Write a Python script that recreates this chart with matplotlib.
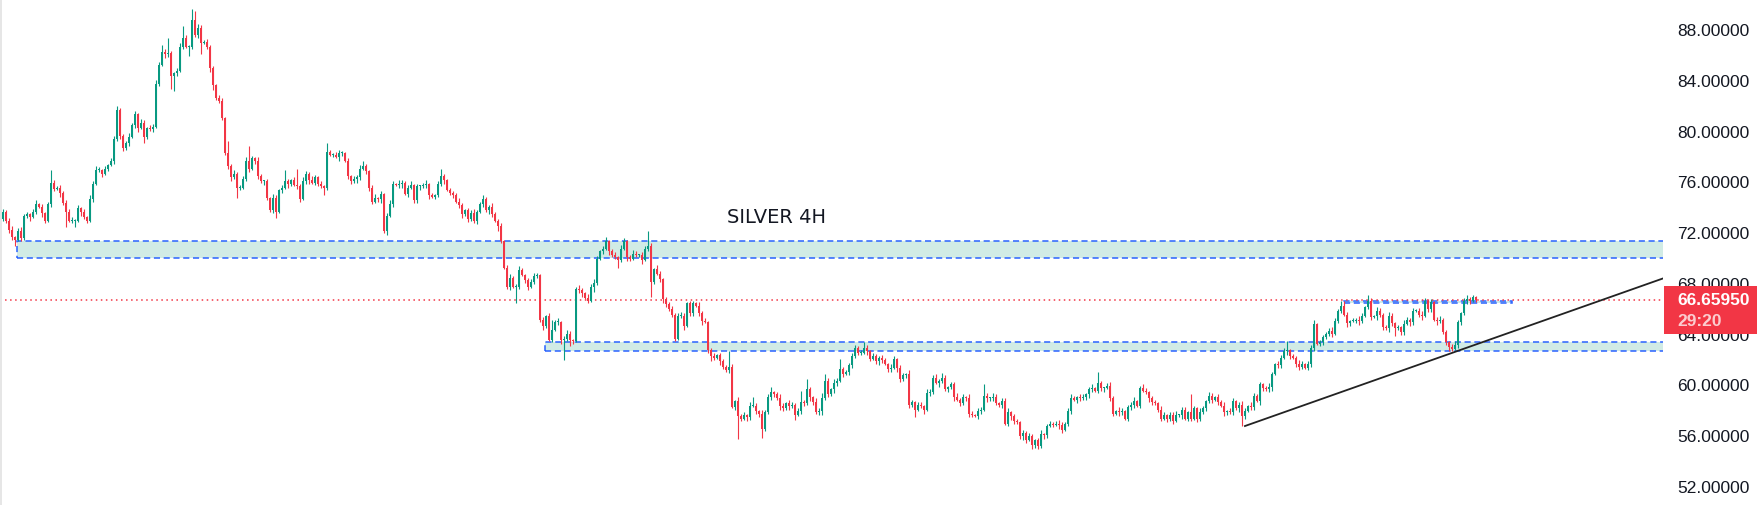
import matplotlib
matplotlib.use("Agg")
import matplotlib.pyplot as plt
from matplotlib.patches import Rectangle
import numpy as np

plt.rcParams['font.family'] = ['DejaVu Sans']

# ---------------- data ----------------
first_open = 73.0
closes = [
    73.6, 72.9, 72.2, 71.6, 71.4, 72.1, 71.5, 73.3, 73.4, 73.2,
    73.6, 74.2, 74.0, 73.5, 72.9, 74.2, 75.9, 75.4, 75.5, 75.1,
    74.3, 73.6, 72.9, 72.9, 72.9, 73.9, 73.6, 73.2, 72.9, 74.6,
    75.8, 76.9, 76.9, 76.6, 77.0, 77.3, 77.6, 79.3, 81.6, 79.6,
    78.6, 79.0, 79.5, 80.4, 81.3, 80.2, 80.6, 79.5, 80.2, 80.1,
    80.3, 83.7, 85.2, 86.2, 86.0, 86.1, 84.3, 84.5, 84.7, 86.6,
    87.3, 86.6, 86.6, 88.7, 87.5, 88.1, 86.9, 87.0, 86.6, 84.9,
    83.6, 82.6, 82.3, 81.0, 78.2, 77.2, 76.3, 76.6, 75.5, 75.5,
    76.2, 77.6, 77.0, 77.8, 77.6, 76.4, 76.0, 76.0, 74.7, 73.7,
    74.7, 73.6, 75.3, 75.5, 76.0, 75.8, 76.1, 75.7, 75.6, 74.6,
    76.0, 76.6, 76.1, 75.9, 76.3, 75.8, 75.6, 75.5, 78.3, 78.1,
    78.1, 77.9, 78.2, 78.2, 77.6, 76.4, 76.0, 76.2, 76.3, 77.0,
    77.2, 76.8, 75.5, 74.4, 74.7, 74.6, 75.0, 72.1, 73.3, 74.2,
    75.8, 75.7, 75.8, 75.9, 75.0, 75.5, 75.7, 74.5, 75.6, 75.6,
    75.7, 75.8, 74.9, 74.8, 74.9, 75.8, 76.4, 76.1, 75.3, 75.1,
    74.9, 74.4, 74.1, 73.4, 73.7, 73.0, 73.5, 72.9, 73.6, 74.2,
    74.6, 73.7, 74.0, 73.4, 72.9, 72.5, 71.3, 69.2, 67.7, 68.4,
    67.7, 67.7, 69.0, 68.6, 68.2, 67.7, 68.1, 68.5, 68.6, 65.1,
    64.6, 65.4, 63.5, 64.3, 64.9, 64.9, 63.5, 63.6, 64.0, 63.5,
    63.4, 67.5, 67.4, 67.2, 66.8, 66.6, 67.7, 68.0, 69.9, 70.5,
    70.7, 71.3, 70.5, 70.2, 70.0, 69.8, 70.7, 71.3, 70.0, 69.9,
    70.3, 70.2, 70.2, 69.8, 70.7, 70.9, 68.1, 69.1, 68.7, 68.3,
    66.7, 66.3, 65.9, 65.5, 63.6, 65.4, 65.4, 64.6, 66.4, 65.6,
    66.4, 66.2, 65.6, 65.0, 64.9, 62.7, 62.2, 62.1, 62.3, 61.8,
    61.4, 61.1, 61.4, 58.2, 58.7, 57.5, 57.3, 57.6, 57.4, 58.3,
    58.3, 57.9, 57.7, 56.5, 57.8, 59.0, 59.4, 59.2, 58.9, 58.3,
    58.1, 58.5, 58.3, 58.4, 57.6, 57.9, 58.6, 58.5, 59.6, 59.0,
    58.6, 57.8, 57.9, 58.9, 60.3, 59.2, 59.6, 60.1, 60.3, 61.2,
    60.8, 61.0, 61.5, 62.2, 62.9, 62.5, 62.5, 62.9, 62.6, 62.0,
    62.2, 61.8, 62.1, 61.9, 61.6, 61.2, 61.3, 62.0, 61.3, 60.4,
    60.7, 60.8, 58.4, 58.6, 58.0, 58.4, 58.3, 58.0, 59.3, 59.4,
    60.5, 60.1, 60.3, 60.5, 59.6, 59.8, 60.0, 59.0, 58.8, 58.5,
    59.0, 58.9, 57.7, 57.6, 57.5, 57.9, 58.0, 59.1, 58.9, 58.9,
    59.0, 58.5, 58.4, 58.7, 56.9, 57.8, 57.5, 57.1, 57.0, 55.9,
    56.2, 55.6, 55.9, 55.2, 55.6, 55.1, 56.1, 56.0, 56.7, 56.9,
    56.8, 56.9, 56.8, 56.4, 56.9, 57.9, 58.9, 58.8, 59.0, 58.9,
    59.0, 59.2, 59.6, 59.7, 59.5, 60.1, 59.7, 59.7, 59.9, 58.9,
    57.7, 57.9, 57.8, 57.9, 57.3, 58.2, 58.4, 58.7, 58.3, 59.7,
    59.5, 59.4, 58.9, 58.6, 58.5, 58.0, 57.3, 57.6, 57.3, 57.6,
    57.1, 57.6, 57.6, 58.0, 57.3, 57.8, 57.3, 58.1, 57.3, 57.8,
    58.1, 58.7, 59.1, 58.8, 59.0, 58.6, 58.3, 57.8, 57.9, 57.8,
    58.7, 58.1, 58.4, 57.5, 57.9, 58.3, 58.2, 59.1, 58.7, 60.0,
    59.7, 59.6, 59.8, 60.8, 61.6, 61.5, 62.1, 62.6, 62.7, 62.2,
    62.1, 61.6, 61.4, 61.6, 61.3, 61.6, 62.9, 64.75, 63.2, 63.3,
    63.7, 64.0, 64.2, 64.0, 65.0, 65.8, 66.2, 65.5, 64.8, 65.0,
    65.0, 65.1, 65.0, 65.4, 66.1, 66.6, 65.3, 65.4, 65.8, 65.5,
    64.5, 64.4, 65.4, 64.8, 64.4, 64.5, 64.1, 64.75, 65.1, 64.9,
    65.8, 65.8, 65.5, 65.4, 66.6, 65.9, 66.5, 65.1, 65.0, 65.1,
    64.1, 63.3, 62.95, 62.8, 63.1, 64.9, 65.6, 66.6, 66.7, 66.55,
    66.85, 66.6595,
]
# wick extensions beyond the body, in tenths of a price unit
wick_hi = [
    2, 1, 2, 3, 1, 2, 3, 1, 2, 1,
    2, 3, 1, 2, 1, 2, 10, 2, 1, 2,
    1, 2, 2, 3, 1, 2, 1, 2, 1, 3,
    2, 3, 2, 1, 2, 1, 2, 3, 3, 2,
    1, 2, 3, 2, 2, 1, 3, 2, 1, 2,
    2, 3, 2, 5, 2, 12, 2, 1, 2, 3,
    9, 2, 1, 9, 7, 3, 2, 1, 2, 1,
    2, 1, 2, 3, 1, 10, 2, 3, 1, 2,
    2, 3, 12, 2, 1, 3, 2, 1, 2, 1,
    3, 2, 1, 2, 9, 2, 1, 2, 13, 2,
    3, 2, 1, 3, 2, 1, 2, 1, 7, 2,
    1, 2, 3, 2, 1, 2, 1, 2, 2, 3,
    4, 2, 1, 2, 3, 1, 2, 1, 2, 3,
    2, 1, 3, 2, 1, 2, 3, 1, 2, 1,
    2, 3, 1, 2, 1, 2, 6, 2, 1, 2,
    1, 2, 3, 2, 1, 2, 2, 3, 1, 2,
    3, 2, 1, 3, 2, 1, 2, 1, 2, 3,
    1, 2, 3, 2, 1, 2, 2, 3, 2, 1,
    2, 1, 2, 8, 2, 3, 1, 2, 3, 2,
    1, 2, 3, 2, 1, 3, 2, 3, 2, 1,
    2, 3, 1, 2, 2, 1, 3, 2, 1, 2,
    3, 2, 1, 2, 2, 12, 2, 1, 3, 2,
    1, 2, 2, 3, 1, 2, 3, 2, 1, 2,
    2, 1, 3, 2, 2, 1, 2, 3, 1, 2,
    2, 1, 12, 2, 1, 3, 2, 2, 1, 3,
    7, 2, 1, 3, 2, 2, 4, 1, 2, 3,
    2, 1, 3, 2, 1, 2, 9, 2, 8, 2,
    1, 3, 2, 4, 5, 2, 1, 3, 2, 8,
    2, 1, 2, 3, 2, 1, 2, 4, 2, 1,
    3, 2, 1, 2, 2, 1, 3, 2, 1, 2,
    2, 1, 3, 2, 1, 2, 2, 1, 3, 2,
    2, 3, 1, 4, 2, 1, 2, 2, 3, 1,
    2, 1, 3, 2, 1, 2, 2, 9, 2, 1,
    3, 2, 1, 2, 2, 3, 1, 2, 2, 1,
    2, 1, 3, 2, 1, 2, 3, 1, 2, 2,
    1, 2, 3, 2, 1, 2, 3, 2, 1, 2,
    2, 1, 2, 3, 1, 9, 2, 1, 2, 3,
    2, 1, 3, 2, 1, 2, 2, 3, 1, 2,
    3, 2, 1, 2, 2, 1, 3, 2, 1, 2,
    2, 3, 1, 2, 2, 1, 14, 2, 1, 3,
    2, 1, 3, 2, 1, 2, 2, 3, 1, 2,
    2, 1, 2, 3, 2, 1, 3, 2, 1, 2,
    1, 2, 3, 2, 1, 2, 2, 3, 7, 1,
    2, 1, 3, 2, 1, 2, 2, 3, 1, 2,
    2, 1, 2, 3, 2, 1, 4, 4, 2, 1,
    2, 1, 3, 2, 1, 4, 2, 1, 3, 2,
    1, 2, 3, 2, 1, 2, 1, 3, 2, 1,
    2, 1, 2, 3, 2, 1, 2, 1, 2, 3,
    1, 2, 1, 2, 3, 2, 1, 2, 3, 2,
    2, 1,
]
wick_lo = [
    1, 2, 3, 2, 5, 1, 2, 1, 2, 3,
    1, 2, 1, 3, 2, 1, 2, 2, 1, 3,
    2, 12, 1, 2, 5, 1, 3, 2, 2, 1,
    2, 1, 2, 3, 1, 2, 1, 2, 1, 3,
    2, 1, 2, 1, 2, 3, 1, 5, 2, 1,
    2, 1, 2, 1, 3, 2, 10, 12, 2, 1,
    2, 1, 7, 2, 1, 2, 9, 1, 2, 3,
    4, 2, 1, 2, 1, 2, 3, 1, 8, 2,
    1, 2, 3, 1, 2, 2, 1, 3, 2, 1,
    2, 5, 1, 2, 1, 3, 2, 1, 2, 2,
    1, 2, 3, 1, 2, 2, 1, 6, 2, 1,
    2, 1, 3, 2, 1, 2, 2, 1, 3, 2,
    1, 2, 3, 2, 1, 2, 3, 2, 3, 1,
    2, 1, 2, 3, 1, 2, 1, 2, 2, 3,
    1, 2, 3, 1, 2, 1, 2, 3, 1, 2,
    2, 1, 2, 3, 1, 2, 1, 2, 3, 1,
    2, 1, 3, 2, 1, 4, 2, 1, 2, 3,
    1, 13, 2, 1, 2, 3, 1, 2, 1, 2,
    3, 2, 1, 2, 1, 2, 3, 16, 2, 5,
    2, 1, 2, 3, 1, 2, 1, 4, 2, 1,
    2, 1, 3, 2, 1, 6, 2, 1, 3, 2,
    1, 2, 2, 3, 1, 2, 12, 2, 1, 2,
    3, 2, 1, 2, 2, 1, 2, 3, 1, 2,
    2, 1, 2, 3, 1, 2, 4, 2, 1, 3,
    2, 1, 2, 1, 2, 18, 2, 1, 3, 2,
    1, 2, 3, 7, 2, 1, 2, 2, 1, 3,
    2, 1, 3, 2, 4, 1, 2, 2, 1, 3,
    2, 1, 2, 3, 1, 2, 1, 3, 2, 1,
    2, 1, 3, 2, 1, 2, 2, 1, 3, 2,
    1, 2, 3, 2, 1, 2, 2, 1, 3, 2,
    1, 2, 3, 2, 6, 1, 2, 3, 1, 2,
    2, 1, 3, 2, 1, 2, 2, 3, 1, 2,
    1, 2, 3, 2, 1, 2, 2, 1, 3, 2,
    2, 1, 2, 3, 1, 2, 3, 2, 1, 2,
    3, 2, 1, 3, 2, 2, 1, 3, 2, 1,
    2, 1, 3, 2, 1, 2, 2, 1, 3, 2,
    1, 2, 3, 2, 1, 2, 2, 3, 1, 2,
    2, 1, 3, 2, 1, 2, 2, 3, 1, 2,
    1, 2, 3, 2, 1, 2, 2, 1, 3, 2,
    2, 1, 2, 3, 1, 2, 2, 1, 3, 2,
    1, 2, 2, 3, 1, 2, 1, 3, 2, 1,
    2, 1, 3, 8, 2, 1, 2, 2, 1, 3,
    2, 1, 2, 3, 1, 2, 2, 1, 3, 2,
    1, 2, 3, 2, 1, 2, 2, 3, 1, 2,
    2, 1, 2, 3, 1, 2, 2, 1, 3, 2,
    1, 2, 3, 2, 1, 2, 2, 1, 3, 2,
    2, 1, 3, 2, 6, 1, 2, 2, 1, 3,
    2, 1, 2, 3, 1, 2, 2, 1, 3, 2,
    1, 2, 3, 2, 1, 2, 2, 1, 3, 2,
    1, 2,
]

price_ticks = [52, 56, 60, 64, 68, 72, 76, 80, 84, 88]
last_price = 66.6595
countdown = "29:20"
chart_title = "SILVER 4H"
title_pos = (258, 73.26)          # bar index, price

# zones: (start bar, end bar or None = to the right edge, low price, high price)
zone_upper = (4.7, None, 69.93, 71.27)
zone_lower = (180.7, None, 62.60, 63.31)
zone_small = (447.0, 503.0, 66.39, 66.59)

# trendline (bar index, price)
trend_x = [413.7, 553.4]
trend_y = [56.69, 68.35]

# ---------------- style ----------------
GREEN = '#089981'
RED = '#F23645'
BLUE = '#2962FF'
ZONE_FILL = '#d1ebe5'
TEXT = '#131722'
AXIS_FONT = ['Liberation Sans', 'DejaVu Sans']

W, H = 1758, 506
PLOT_W = 1663
fig = plt.figure(figsize=(W / 100, H / 100), dpi=100)
fig.patch.set_facecolor('white')
ax = fig.add_axes([0, 0, PLOT_W / W, 1])
ax.set_facecolor('white')

n = min(len(closes), len(wick_hi), len(wick_lo))
c = np.array(closes[:n], dtype=float)
o = np.concatenate([[first_open], c[:-1]])
hi = np.maximum(o, c) + np.array(wick_hi[:n]) / 10.0
lo = np.minimum(o, c) - np.array(wick_lo[:n]) / 10.0
idx = np.arange(n)
cols = np.where(c >= o, GREEN, RED)

x_left, x_right = -1.0, (PLOT_W - 3) / 3.0
ax.set_xlim(x_left, x_right)
ax.set_ylim(50.49, 90.364)

# zones
for (x0, x1, zlo, zhi) in (zone_upper, zone_lower, zone_small):
    xe = x1 if x1 is not None else x_right + 5
    ax.add_patch(Rectangle((x0, zlo), xe - x0, zhi - zlo, facecolor=ZONE_FILL,
                           edgecolor='none', zorder=1))
    ax.add_patch(Rectangle((x0, zlo), xe - x0, zhi - zlo, facecolor='none',
                           edgecolor=BLUE, linewidth=1.1,
                           linestyle=(0, (4, 2.4)), zorder=2))

# candles
ax.vlines(idx, lo, hi, colors=cols, linewidth=0.8, zorder=3)
body = np.maximum(np.abs(c - o), 0.08)
ax.bar(idx, body, bottom=np.minimum(o, c), width=0.97, color=cols,
       linewidth=0, zorder=4)

# last price dotted line
ax.axhline(last_price, color=RED, linewidth=1.1, linestyle=(0, (1, 2.3)), zorder=2.5)

# trendline
ax.plot(trend_x, trend_y, color='#222222', linewidth=1.3, zorder=5,
        solid_capstyle='butt')

# title text
ax.text(title_pos[0], title_pos[1], chart_title, ha='center', va='center',
        fontsize=14, color=TEXT, zorder=6)

# axes styling
for s in ax.spines.values():
    s.set_visible(False)
ax.tick_params(axis='x', bottom=False, labelbottom=False)
ax.yaxis.tick_right()
ax.set_yticks(price_ticks)
ax.set_yticklabels([f"{t:.5f}" for t in price_ticks])
ax.tick_params(axis='y', length=0, pad=10, labelsize=12.5, labelcolor=TEXT,
               right=True, labelright=True, left=False, labelleft=False)
for lab in ax.get_yticklabels():
    lab.set_fontfamily(AXIS_FONT)

# last price label box
fig.canvas.draw()
_, py = ax.transData.transform((0, last_price))   # pixels from bottom
box_top = py + 14
box_bot = py - 34
box = Rectangle((1664 / W, box_bot / H), 94 / W, (box_top - box_bot) / H,
                transform=fig.transFigure, facecolor=RED, edgecolor='none',
                zorder=10)
fig.add_artist(box)
fig.text(1677 / W, py / H, f"{last_price:.5f}", ha='left', va='center',
         fontsize=12.5, fontweight='bold', family=AXIS_FONT, color='white', zorder=11)
fig.text(1677 / W, (py - 21) / H, countdown, ha='left', va='center',
         fontsize=12.5, fontweight='bold', family=AXIS_FONT, color='white',
         alpha=0.75, zorder=11)

# thin grey strip on the left edge
fig.add_artist(Rectangle((0, 0), 2 / W, 1, transform=fig.transFigure,
                         facecolor='#e6e6e6', edgecolor='none', zorder=9))

fig.savefig('out.png', dpi=100, facecolor='white')
